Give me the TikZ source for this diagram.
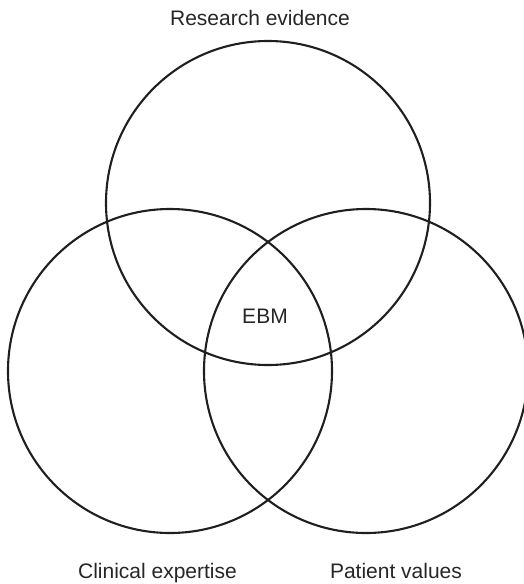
\documentclass[tikz,border=0pt]{standalone}
\usepackage{fontspec}
\setmainfont{Liberation Sans}
\begin{document}
\begin{tikzpicture}[x=1pt,y=-1pt,
  venn/.style={circle,draw=black!88,line width=2.1pt,minimum size=324pt,inner sep=0pt},
  lbl/.style={font=\fontsize{21}{24}\selectfont,text=black!85,anchor=base,inner sep=0pt}]
\useasboundingbox (0,0) rectangle (524,584);
\begin{scope}
\clip (0,0) rectangle (524,584);
\node[venn] (research) at (268,203) {};
\node[venn] (clinical) at (170,371) {};
\node[venn] (patient) at (366,371) {};
\end{scope}
\node[lbl] (lres) at (260,25) {Research evidence};
\node[lbl] (lebm) at (265,323) {EBM};
\node[lbl] (lcli) at (157.5,578) {Clinical expertise};
\node[lbl] (lpat) at (396,578) {Patient values};
\end{tikzpicture}
\end{document}
